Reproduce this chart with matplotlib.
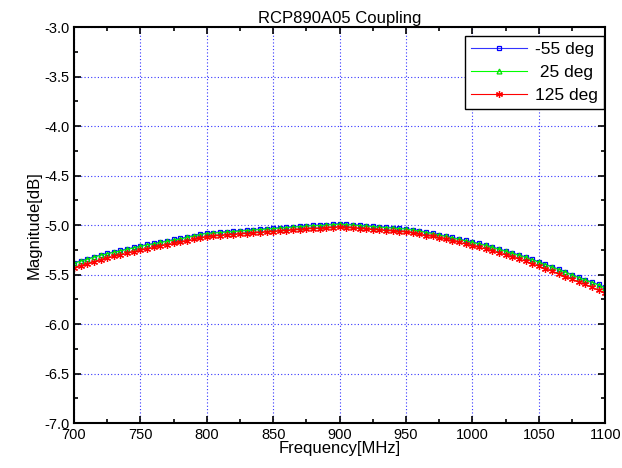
import matplotlib
matplotlib.use("Agg")
import matplotlib.pyplot as plt
from matplotlib.ticker import MultipleLocator
import numpy as np

plt.rcParams['font.family'] = ['Liberation Sans', 'DejaVu Sans']

freq = np.arange(700, 1101, 5)

mag_m55 = [
    -5.38, -5.36, -5.34, -5.32, -5.30, -5.285, -5.27, -5.255, -5.24, -5.225,
    -5.21, -5.195, -5.185, -5.17, -5.16, -5.145, -5.135, -5.12, -5.105, -5.09,
    -5.08, -5.075, -5.07, -5.065, -5.06, -5.055, -5.05, -5.045, -5.04, -5.035,
    -5.03, -5.025, -5.02, -5.015, -5.01, -5.005, -5.00, -5.00, -4.995, -4.99,
    -4.985, -4.99, -4.995, -5.00, -5.005, -5.01, -5.015, -5.02, -5.025, -5.03,
    -5.035, -5.045, -5.055, -5.07, -5.08, -5.095, -5.11, -5.125, -5.14, -5.155,
    -5.17, -5.185, -5.20, -5.22, -5.24, -5.26, -5.28, -5.30, -5.32, -5.345,
    -5.37, -5.395, -5.42, -5.445, -5.47, -5.50, -5.525, -5.55, -5.575, -5.60,
    -5.63,
]

mag_25 = [
    -5.385, -5.365, -5.345, -5.325, -5.305, -5.29, -5.275, -5.26, -5.245, -5.23,
    -5.215, -5.20, -5.19, -5.175, -5.165, -5.15, -5.14, -5.125, -5.11, -5.095,
    -5.085, -5.08, -5.075, -5.07, -5.065, -5.06, -5.055, -5.05, -5.045, -5.04,
    -5.035, -5.03, -5.025, -5.02, -5.015, -5.01, -5.005, -5.005, -5.00, -4.995,
    -4.99, -4.995, -5.00, -5.005, -5.01, -5.015, -5.02, -5.025, -5.03, -5.035,
    -5.04, -5.05, -5.06, -5.075, -5.085, -5.10, -5.115, -5.13, -5.145, -5.16,
    -5.175, -5.19, -5.205, -5.225, -5.245, -5.265, -5.285, -5.305, -5.325, -5.35,
    -5.375, -5.40, -5.425, -5.45, -5.475, -5.505, -5.53, -5.555, -5.58, -5.605,
    -5.635,
]

mag_125 = [
    -5.43, -5.41, -5.39, -5.37, -5.35, -5.33, -5.315, -5.30, -5.285, -5.27,
    -5.255, -5.24, -5.225, -5.21, -5.20, -5.185, -5.175, -5.16, -5.145, -5.13,
    -5.12, -5.11, -5.105, -5.10, -5.095, -5.09, -5.085, -5.08, -5.075, -5.07,
    -5.065, -5.06, -5.055, -5.05, -5.045, -5.04, -5.035, -5.035, -5.03, -5.025,
    -5.02, -5.025, -5.03, -5.035, -5.04, -5.045, -5.05, -5.055, -5.06, -5.065,
    -5.07, -5.08, -5.09, -5.105, -5.115, -5.13, -5.145, -5.16, -5.175, -5.19,
    -5.21, -5.225, -5.24, -5.26, -5.28, -5.30, -5.32, -5.34, -5.365, -5.39,
    -5.415, -5.44, -5.465, -5.49, -5.52, -5.545, -5.575, -5.60, -5.63, -5.66,
    -5.69,
]

labels = ['-55 deg', ' 25 deg', '125 deg']


def plot_coupling():
    fig = plt.figure(figsize=(6.22, 4.68), dpi=100)
    ax = fig.add_axes([0.119, 0.096, 0.854, 0.846])

    ax.plot(freq, mag_m55, color='#3333ff', lw=0.8, marker='s', ms=3.5,
            mfc='none', mec='#0000ff', mew=0.9, label=labels[0])
    ax.plot(freq, mag_25, color='#00ff00', lw=0.8, marker='^', ms=3.5,
            mfc='none', mec='#00dd00', mew=0.9, label=labels[1])
    ax.plot(freq, mag_125, color='#ff0000', lw=0.8, marker=(6, 2, 0), ms=5,
            mec='#ff0000', mew=0.9, label=labels[2])

    ax.set_xlim(700, 1100)
    ax.set_ylim(-7.0, -3.0)
    ax.xaxis.set_major_locator(MultipleLocator(50))
    ax.xaxis.set_minor_locator(MultipleLocator(25))
    ax.yaxis.set_major_locator(MultipleLocator(0.5))
    ax.yaxis.set_minor_locator(MultipleLocator(0.25))
    ax.yaxis.set_major_formatter(plt.FormatStrFormatter('%.1f'))

    ax.tick_params(which='both', direction='in', top=True, right=True,
                   labelsize=10.5, width=1.2)
    ax.tick_params(which='major', length=5)
    ax.tick_params(which='minor', length=3)
    for sp in ax.spines.values():
        sp.set_linewidth(1.5)

    ax.grid(True, which='major', color='#3333ff', linestyle=(0, (1, 2)), lw=0.8)

    ax.set_title('RCP890A05 Coupling', fontsize=12, pad=3)
    ax.set_xlabel('Frequency[MHz]', fontsize=12, labelpad=-1)
    ax.set_ylabel('Magnitude[dB]', fontsize=12, labelpad=2)

    leg = ax.legend(loc='upper right', bbox_to_anchor=(0.998, 0.977),
                    fontsize=12.5, frameon=True, fancybox=False,
                    edgecolor='black', framealpha=1, handlelength=3.2,
                    borderaxespad=0, labelspacing=0.45, handletextpad=0.5,
                    borderpad=0.35)
    leg.get_frame().set_linewidth(1.0)

    fig.savefig('out.png', dpi=100)


if __name__ == '__main__':
    plot_coupling()
